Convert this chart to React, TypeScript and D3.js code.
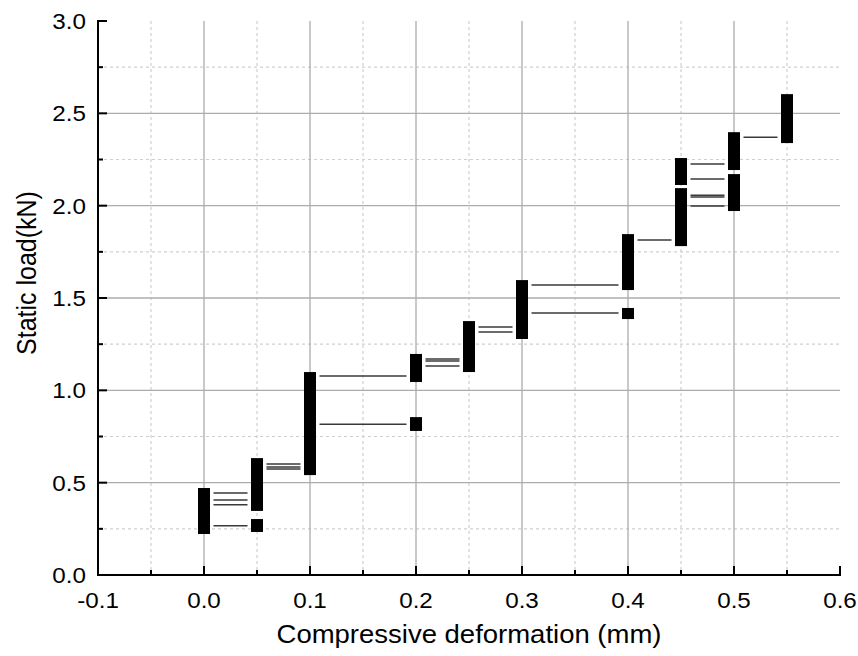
import { useRef, useEffect } from 'react';
import * as d3 from 'd3';

// vertical blocks of recorded load at each deformation step
const BLOCK_X = [0, 0.05, 0.05, 0.1, 0.2, 0.2, 0.25, 0.3, 0.4, 0.4, 0.45, 0.45, 0.5, 0.5, 0.55];
const BLOCK_LOW = [0.222, 0.347, 0.233, 0.541, 1.045, 0.78, 1.099, 1.278, 1.543, 1.386, 2.112, 1.781, 2.193, 1.971, 2.339];
const BLOCK_HIGH = [0.471, 0.633, 0.303, 1.099, 1.197, 0.855, 1.375, 1.597, 1.846, 1.446, 2.258, 2.095, 2.398, 2.171, 2.604];

// horizontal holding lines between steps
const LINE_FROM = [0, 0, 0, 0, 0.05, 0.05, 0.05, 0.1, 0.1, 0.2, 0.2, 0.2, 0.25, 0.25, 0.3, 0.3, 0.4, 0.45, 0.45, 0.45, 0.45, 0.45, 0.5];
const LINE_TO = [0.05, 0.05, 0.05, 0.05, 0.1, 0.1, 0.1, 0.2, 0.2, 0.25, 0.25, 0.25, 0.3, 0.3, 0.4, 0.4, 0.45, 0.5, 0.5, 0.5, 0.5, 0.5, 0.55];
const LINE_Y = [0.444, 0.406, 0.381, 0.267, 0.601, 0.585, 0.574, 1.077, 0.817, 1.169, 1.159, 1.132, 1.343, 1.316, 1.57, 1.419, 1.814, 2.225, 2.144, 2.057, 2.047, 1.998, 2.371];

const X_TICKS = [-0.1, 0, 0.1, 0.2, 0.3, 0.4, 0.5, 0.6];
const Y_TICKS = [0, 0.5, 1.0, 1.5, 2.0, 2.5, 3.0];
const X_MINOR = [-0.05, 0.05, 0.15, 0.25, 0.35, 0.45, 0.55];
const Y_MINOR = [0.25, 0.75, 1.25, 1.75, 2.25, 2.75];

const FONT = '"Liberation Sans", Arial, sans-serif';
const STRETCH = 1.1; // glyphs in the source are a bit wider than Arial

export default function App() {
  const svgRef = useRef<SVGSVGElement>(null);
  const width = 858;
  const height = 656;

  useEffect(() => {
    const svg = d3.select(svgRef.current);
    svg.selectAll('*').remove();

    const margin = { top: 21, right: 18, bottom: 81, left: 98 };
    const w = width - margin.left - margin.right;
    const h = height - margin.top - margin.bottom;

    svg.append('rect').attr('width', width).attr('height', height).attr('fill', '#fff');

    const g = svg.append('g').attr('transform', `translate(${margin.left},${margin.top})`);

    const x = d3.scaleLinear().domain([-0.1, 0.6]).range([0, w]);
    const y = d3.scaleLinear().domain([0, 3]).range([h, 0]);

    // Grid: minor dashed, major solid
    X_MINOR.forEach((v) => {
      g.append('line')
        .attr('x1', x(v)).attr('x2', x(v)).attr('y1', 0).attr('y2', h)
        .attr('stroke', '#cfcfcf').attr('stroke-width', 1.2).attr('stroke-dasharray', '3,3');
    });
    Y_MINOR.forEach((v) => {
      g.append('line')
        .attr('x1', 0).attr('x2', w).attr('y1', y(v)).attr('y2', y(v))
        .attr('stroke', '#cfcfcf').attr('stroke-width', 1.2).attr('stroke-dasharray', '3,3');
    });
    X_TICKS.slice(1, -1).forEach((v) => {
      g.append('line')
        .attr('x1', x(v)).attr('x2', x(v)).attr('y1', 0).attr('y2', h)
        .attr('stroke', '#acacac').attr('stroke-width', 1.3);
    });
    Y_TICKS.slice(1, -1).forEach((v) => {
      g.append('line')
        .attr('x1', 0).attr('x2', w).attr('y1', y(v)).attr('y2', y(v))
        .attr('stroke', '#acacac').attr('stroke-width', 1.3);
    });

    // Holding lines
    const gap = 9.5;
    LINE_Y.forEach((v, i) => {
      g.append('line')
        .attr('x1', x(LINE_FROM[i]) + gap)
        .attr('x2', x(LINE_TO[i]) - gap)
        .attr('y1', y(v)).attr('y2', y(v))
        .attr('stroke', '#3a3a3a')
        .attr('stroke-width', 1.5);
    });

    // Blocks
    const bw = 12;
    BLOCK_X.forEach((v, i) => {
      g.append('rect')
        .attr('x', x(v) - bw / 2)
        .attr('y', y(BLOCK_HIGH[i]))
        .attr('width', bw)
        .attr('height', y(BLOCK_LOW[i]) - y(BLOCK_HIGH[i]))
        .attr('fill', '#000');
    });

    const fmt = (v: number) => v.toFixed(1);

    // Axes with inward ticks
    const xAxis = g.append('g').attr('transform', `translate(0,${h})`);
    xAxis.append('line').attr('x1', 0).attr('x2', w).attr('stroke', '#000').attr('stroke-width', 2);
    X_TICKS.forEach((v) => {
      xAxis.append('line').attr('x1', x(v)).attr('x2', x(v)).attr('y1', 1).attr('y2', -9)
        .attr('stroke', '#000').attr('stroke-width', 2);
      xAxis.append('text')
        .attr('transform', `translate(${x(v)},33) scale(${STRETCH},1)`)
        .attr('text-anchor', 'middle')
        .attr('font-family', FONT).attr('font-size', 22)
        .attr('fill', '#000')
        .text(fmt(v));
    });
    X_MINOR.forEach((v) => {
      xAxis.append('line').attr('x1', x(v)).attr('x2', x(v)).attr('y1', 0).attr('y2', -5)
        .attr('stroke', '#000').attr('stroke-width', 2);
    });

    const yAxis = g.append('g');
    yAxis.append('line').attr('y1', -1).attr('y2', h + 1).attr('stroke', '#000').attr('stroke-width', 2);
    Y_TICKS.forEach((v) => {
      yAxis.append('line').attr('x1', -1).attr('x2', 9).attr('y1', y(v)).attr('y2', y(v))
        .attr('stroke', '#000').attr('stroke-width', 2);
      yAxis.append('text')
        .attr('transform', `translate(-12,${y(v)}) scale(${STRETCH},1)`)
        .attr('dy', '0.36em')
        .attr('text-anchor', 'end')
        .attr('font-family', FONT).attr('font-size', 22)
        .attr('fill', '#000')
        .text(fmt(v));
    });
    Y_MINOR.forEach((v) => {
      yAxis.append('line').attr('x1', 0).attr('x2', 5).attr('y1', y(v)).attr('y2', y(v))
        .attr('stroke', '#000').attr('stroke-width', 2);
    });

    // Axis titles
    svg.append('text')
      .attr('transform', `translate(${margin.left + w / 2},643) scale(${STRETCH},1)`)
      .attr('text-anchor', 'middle')
      .attr('font-family', FONT).attr('font-size', 25)
      .attr('fill', '#000')
      .text('Compressive deformation (mm)');

    svg.append('text')
      .attr('transform', `translate(36,273) rotate(-90) scale(1,${STRETCH})`)
      .attr('text-anchor', 'middle')
      .attr('font-family', FONT).attr('font-size', 25)
      .attr('fill', '#000')
      .text('Static load(kN)');
  }, []);

  return (
    <svg
      ref={svgRef}
      width={width}
      height={height}
      style={{ position: 'absolute', left: 0, top: 0, display: 'block' }}
    />
  );
}
